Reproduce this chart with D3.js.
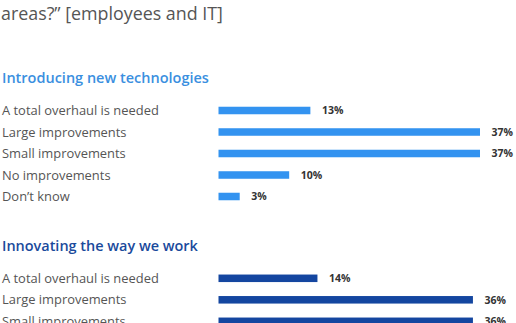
<!DOCTYPE html>
<html><head><meta charset="utf-8">
<script src="https://cdn.jsdelivr.net/npm/d3@7"></script>
<style>html,body{margin:0;padding:0;background:#fff;}svg{display:block;}</style>
</head><body>
<script>
const headerText = "areas?” [employees and IT]";
const sectionTitles = ["Introducing new technologies", "Innovating the way we work"];
const categories1 = ["A total overhaul is needed", "Large improvements", "Small improvements", "No improvements", "Don’t know"];
const values1 = [13, 37, 37, 10, 3];
const categories2 = ["A total overhaul is needed", "Large improvements", "Small improvements"];
const values2 = [14, 36, 36];

const W = 516, H = 323;
const FONT = "'Open Sans', Lato, sans-serif";
const svg = d3.select("body").append("svg").attr("width", W).attr("height", H);

const x = d3.scaleLinear().domain([0, 37]).range([218.5, 480]);

// fit a text element to a target width measured from the reference
function fit(sel, target) {
  sel.each(function() {
    const fs = parseFloat(this.getAttribute("font-size"));
    const w = this.getComputedTextLength();
    if (w > 0) this.setAttribute("font-size", (fs * target / w).toFixed(2));
  });
}

const header = svg.append("text").attr("x", 1).attr("y", 20)
  .attr("font-family", FONT).attr("font-size", 16).attr("fill", "#555")
  .text(headerText);
fit(header, 222);

const sections = [
  {title: sectionTitles[0], cats: categories1, vals: values1, color: "#3393f0", titleColor: "#3a8fe0", titleY: 82.7, firstRow: 110.5, tw: 207},
  {title: sectionTitles[1], cats: categories2, vals: values2, color: "#1446a0", titleColor: "#1a4a9c", titleY: 251, firstRow: 278.3, tw: 196}
];

sections.forEach(s => {
  const g = svg.append("g");
  const t = g.append("text").attr("x", 2).attr("y", s.titleY)
    .attr("font-family", FONT).attr("font-size", 13.5).attr("font-weight", 600)
    .attr("fill", s.titleColor).text(s.title);
  fit(t, s.tw);
  const y = d3.scaleBand().domain(s.cats)
    .range([s.firstRow - 10.75, s.firstRow - 10.75 + 21.5 * s.cats.length]).paddingInner(0.65).paddingOuter(0.325);
  const rows = g.selectAll("g.row").data(s.cats.map((c, i) => ({c, v: s.vals[i]}))).join("g");
  const lab = rows.append("text").attr("x", 2).attr("y", d => y(d.c) + y.bandwidth() / 2 + 4.5)
    .attr("font-family", FONT).attr("font-size", 12).attr("fill", "#555").text(d => d.c);
  fit(lab.filter((d, i) => i === 0), 157);
  const fs = lab.filter((d, i) => i === 0).attr("font-size");
  lab.attr("font-size", fs);
  rows.append("rect").attr("x", x(0)).attr("y", d => y(d.c))
    .attr("width", d => x(d.v) - x(0)).attr("height", y.bandwidth()).attr("fill", s.color);
  rows.append("text").attr("x", d => x(d.v) + 11.5).attr("y", d => y(d.c) + y.bandwidth() / 2 + 3.8)
    .attr("font-family", FONT).attr("font-size", 10.5).attr("font-weight", 700).attr("fill", "#333")
    .text(d => d.v + "%");
});
</script>
</body></html>
